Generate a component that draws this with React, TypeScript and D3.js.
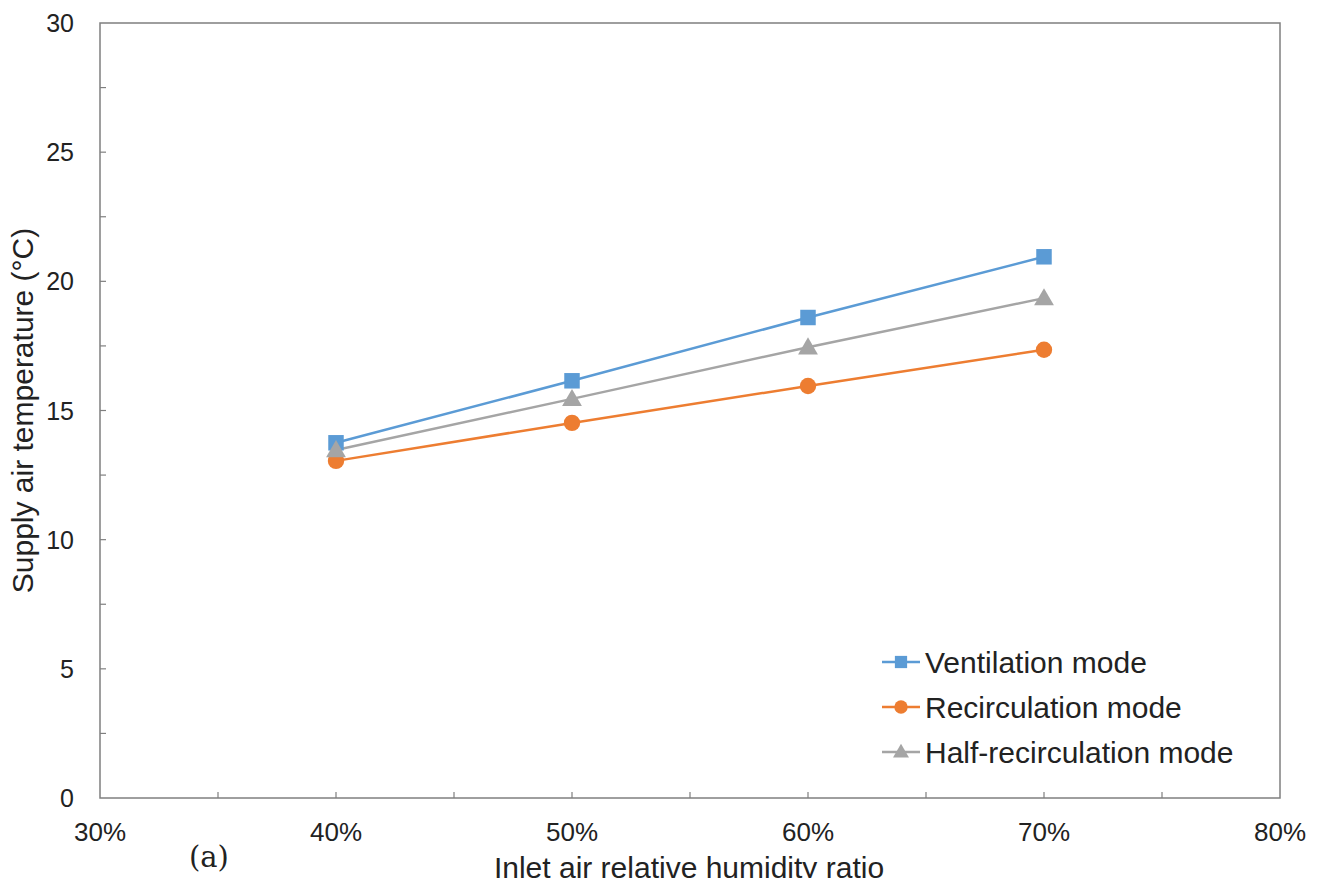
import React, { useEffect, useRef } from 'react';
import * as d3 from 'd3';

const W = 1320;
const H = 886;
const MARGIN = { top: 23, right: 40, bottom: 88, left: 100 };

const humidity = [0.4, 0.5, 0.6, 0.7];
const ventilation = [13.75, 16.15, 18.6, 20.95];
const recirculation = [13.05, 14.52, 15.95, 17.35];
const halfRecirculation = [13.47, 15.45, 17.45, 19.35];

const xTicks = [0.3, 0.4, 0.5, 0.6, 0.7, 0.8];
const yTicks = [0, 5, 10, 15, 20, 25, 30];

const SERIES = [
  { name: 'Ventilation mode', values: ventilation, color: '#5B9BD5', shape: 'square' },
  { name: 'Recirculation mode', values: recirculation, color: '#ED7D31', shape: 'circle' },
  { name: 'Half-recirculation mode', values: halfRecirculation, color: '#A5A5A5', shape: 'triangle' },
];

const FONT = 'Liberation Sans, Arial, sans-serif';

function symbolFor(shape: string) {
  if (shape === 'square') return d3.symbol().type(d3.symbolSquare).size(240);
  if (shape === 'circle') return d3.symbol().type(d3.symbolCircle).size(210);
  return d3.symbol().type(d3.symbolTriangle).size(170);
}

export default function App() {
  const svgRef = useRef<SVGSVGElement>(null);

  useEffect(() => {
    const svg = d3.select(svgRef.current);
    svg.selectAll('*').remove();

    const innerW = W - MARGIN.left - MARGIN.right;
    const innerH = H - MARGIN.top - MARGIN.bottom;

    const x = d3.scaleLinear().domain([0.3, 0.8]).range([0, innerW]);
    const y = d3.scaleLinear().domain([0, 30]).range([innerH, 0]);

    const g = svg.append('g').attr('transform', `translate(${MARGIN.left},${MARGIN.top})`);

    // frame
    g.append('rect')
      .attr('width', innerW)
      .attr('height', innerH)
      .attr('fill', 'none')
      .attr('stroke', '#7f7f7f')
      .attr('stroke-width', 1.5);

    // ticks pointing inward (every half step)
    const xMinor = d3.range(0.35, 0.8, 0.05);
    g.selectAll('.xt')
      .data(xMinor)
      .enter()
      .append('line')
      .attr('x1', (d) => x(d))
      .attr('x2', (d) => x(d))
      .attr('y1', innerH)
      .attr('y2', innerH - 6)
      .attr('stroke', '#7f7f7f')
      .attr('stroke-width', 1.2);

    const yMinor = d3.range(2.5, 30, 2.5);
    g.selectAll('.yt')
      .data(yMinor)
      .enter()
      .append('line')
      .attr('x1', 0)
      .attr('x2', 6)
      .attr('y1', (d) => y(d))
      .attr('y2', (d) => y(d))
      .attr('stroke', '#7f7f7f')
      .attr('stroke-width', 1.2);

    // tick labels
    g.selectAll('.xl')
      .data(xTicks)
      .enter()
      .append('text')
      .attr('x', (d) => x(d))
      .attr('y', innerH + 43)
      .attr('text-anchor', 'middle')
      .attr('font-family', FONT)
      .attr('font-size', 26)
      .attr('fill', '#222')
      .text((d) => d3.format('.0%')(d));

    g.selectAll('.yl')
      .data(yTicks)
      .enter()
      .append('text')
      .attr('x', -26)
      .attr('y', (d) => y(d) + 9)
      .attr('text-anchor', 'end')
      .attr('font-family', FONT)
      .attr('font-size', 25)
      .attr('fill', '#222')
      .text((d) => d);

    // axis titles
    svg.append('text')
      .attr('x', 689)
      .attr('y', 878)
      .attr('text-anchor', 'middle')
      .attr('font-family', FONT)
      .attr('font-size', 30)
      .attr('fill', '#222')
      .text('Inlet air relative humidity ratio');

    svg.append('text')
      .attr('transform', `translate(33,${MARGIN.top + innerH / 2}) rotate(-90)`)
      .attr('text-anchor', 'middle')
      .attr('font-family', FONT)
      .attr('font-size', 30)
      .attr('fill', '#222')
      .text('Supply air temperature (°C)');

    svg.append('text')
      .attr('x', 189)
      .attr('y', 867)
      .attr('font-family', 'DejaVu Serif, Liberation Serif, serif')
      .attr('font-size', 29)
      .attr('fill', '#222')
      .text('(a)');

    // series
    const line = d3
      .line<number>()
      .x((_, i) => x(humidity[i]))
      .y((d) => y(d));

    SERIES.forEach((s) => {
      g.append('path')
        .datum(s.values)
        .attr('d', line)
        .attr('fill', 'none')
        .attr('stroke', s.color)
        .attr('stroke-width', 2.5);
    });
    SERIES.forEach((s) => {
      g.selectAll(null)
        .data(s.values)
        .enter()
        .append('path')
        .attr('d', symbolFor(s.shape)())
        .attr('transform', (d, i) => `translate(${x(humidity[i])},${y(d) + (s.shape === 'triangle' ? 1.5 : 0)})`)
        .attr('fill', s.color);
    });

    // legend
    const lg = svg.append('g').attr('transform', 'translate(882,662)');
    SERIES.forEach((s, i) => {
      const row = lg.append('g').attr('transform', `translate(0,${i * 45})`);
      row.append('line')
        .attr('x1', 0)
        .attr('x2', 38)
        .attr('stroke', s.color)
        .attr('stroke-width', 2.5);
      row.append('path')
        .attr('d', symbolFor(s.shape).size(s.shape === 'square' ? 150 : s.shape === 'circle' ? 140 : 110)())
        .attr('transform', `translate(19,${s.shape === 'triangle' ? 1 : 0})`)
        .attr('fill', s.color);
      row.append('text')
        .attr('x', 43)
        .attr('y', 10.5)
        .attr('font-family', FONT)
        .attr('font-size', 30)
        .attr('fill', '#222')
        .text(s.name);
    });
  }, []);

  return <svg ref={svgRef} width={W} height={H} style={{ display: 'block', margin: -8 }} />;
}
